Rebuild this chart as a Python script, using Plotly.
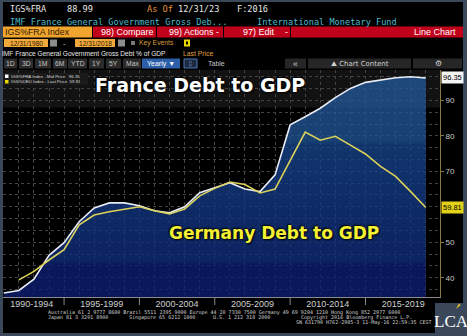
import plotly.graph_objects as go

W, H = 467, 336

# ---------------- data ----------------
years = list(range(1990, 2019))
france_debt = [35.7, 36.4, 39.6, 46.3, 49.9, 55.8, 59.7, 61.1, 61.1, 60.3,
               58.9, 58.3, 60.0, 64.0, 65.4, 66.8, 65.0, 64.3, 69.0, 83.1,
               85.4, 87.8, 90.8, 93.4, 95.1, 95.8, 96.4, 96.7, 96.35]
germany_years = list(range(1991, 2019))
germany_debt = [39.4, 41.8, 45.0, 47.9, 54.9, 57.7, 58.6, 59.3, 60.0,
                58.9, 58.0, 59.4, 63.1, 65.2, 67.0, 66.3, 63.9, 65.0, 73.0,
                81.1, 78.8, 79.9, 77.4, 74.9, 71.4, 68.6, 64.3, 59.81]
period_starts = [1990, 1995, 2000, 2005, 2010, 2015]
period_labels = ["1990-1994", "1995-1999", "2000-2004", "2005-2009", "2010-2014", "2015-2019"]
y_tick_values = [40, 50, 70, 80, 90]
france_ticker = "IGS%FRA Index"
germany_ticker = "IGS%DEU Index"
france_title = "France Debt to GDP"
germany_title = "Germany Debt to GDP"

MONO = "DejaVu Sans Mono"
SANS = "Liberation Sans"

def px(x):
    return x / W

def py(y):
    return 1 - y / H

shapes = []
annotations = []

def rect(x0, y0, x1, y1, fill, layer="below", line=None):
    shapes.append(dict(type="rect", xref="paper", yref="paper",
                       x0=px(x0), x1=px(x1), y0=py(y1), y1=py(y0),
                       fillcolor=fill, layer=layer,
                       line=dict(width=0) if line is None else dict(color=line, width=1)))

def text(x, y, s, size, color, anchor="left", family=MONO, **kw):
    annotations.append(dict(xref="paper", yref="paper", x=px(x), y=py(y), text=s,
                            showarrow=False, xanchor=anchor, yanchor="middle",
                            font=dict(size=size, color=color, family=family),
                            borderpad=0, **kw))

# ---------------- frame ----------------
rect(3, 2, 463, 333, "#000000")
rect(435, 303, 467, 336, "#3b4859")

# row 1
text(9, 8.5, "IGS%FRA", 8.6, "#e6e6e6")
text(66, 8.5, "88.99", 8.6, "#e6e6e6")
text(146, 8.5, "As Of", 8.6, "#e8963a")
text(177, 8.5, "12/31/23", 8.6, "#e6e6e6")
text(236, 8.5, "F:2016", 8.6, "#e6e6e6")
# row 2
text(9, 21.5, "IMF France General Government Gross Deb...", 8.6, "#4cb8c8")
text(256, 21.5, "International Monetary Fund", 8.6, "#4cb8c8")
# row 3
rect(3, 26.5, 92, 37.5, "#f2a52e")
rect(93, 26.5, 156, 37.5, "#c1001b")
rect(157, 26.5, 223, 37.5, "#c1001b")
rect(224, 26.5, 290, 37.5, "#c1001b")
rect(291, 26.5, 463, 37.5, "#c1001b")
text(4, 32, "IGS%FRA Index", 8.8, "#2a1800", family=SANS)
text(100, 32, "98) Compare", 9, "#ffffff", family=SANS)
text(168, 32, "99) Actions -", 9, "#ffffff", family=SANS)
text(242, 32, "97) Edit", 9, "#ffffff", family=SANS)
text(284, 32, "-", 9, "#ffffff", family=SANS)
text(457, 32, "Line Chart", 9, "#ffffff", anchor="right", family=SANS)
# row 4
rect(4, 39, 48, 47, "#f2a93b")
rect(50, 39.5, 57, 46.5, "#8c8c8c")
rect(75, 39, 115, 47, "#f2a93b")
rect(118, 39.5, 125, 46.5, "#8c8c8c")
rect(131, 41, 135, 45, "#7a7a7a")
rect(184, 39.5, 190, 46.5, "#e8d800")
rect(186, 41.5, 188, 44.5, "#000000", layer="above")
text(26, 43, "12/31/1980", 6.6, "#2a1800", anchor="center", family=SANS)
text(95, 43, "12/31/2018", 6.6, "#2a1800", anchor="center", family=SANS)
text(62, 43, "-", 7, "#dddddd", family=SANS)
text(138, 43, "Key Events", 6.8, "#d89b3a", family=SANS)
# row 5
text(1, 53, "IMF France General Government Gross Debt % of GDP", 6.6, "#e8e8e8", family=SANS)
text(182, 53, "Last Price", 6.8, "#e0a040", family=SANS)
# row 6
buttons = [("1D", 4, 17), ("3D", 19, 33), ("1M", 35, 51), ("6M", 53, 67), ("YTD", 68, 87),
           ("1Y", 89, 104), ("5Y", 106, 121), ("Max", 123, 141)]
for lab, a, b in buttons:
    rect(a, 58.5, b, 68.5, "#2b2b2b")
    text((a + b) / 2, 63.5, lab, 6.8, "#c4c4c4", anchor="center", family=SANS)
rect(142, 58.5, 180, 68.5, "#2d5ea8")
text(161, 63.5, "Yearly ▼", 7, "#ffffff", anchor="center", family=SANS)
rect(184, 59, 197, 68, "#1e2a40", line="#4a78b8")
text(190.5, 63.5, "⩇", 6, "#8ab0e0", anchor="center", family="DejaVu Sans")
text(216, 63.5, "Table", 7, "#c4c4c4", anchor="center", family=SANS)
rect(285, 58.5, 306, 68.5, "#262626")
rect(308, 58.5, 411, 68.5, "#262626")
rect(413, 58.5, 462, 68.5, "#262626")
text(295, 63.5, "«", 8.5, "#d0d0d0", anchor="center", family=SANS)
text(360, 63.5, "⛰ Chart Content", 7, "#d0d0d0", anchor="center", family="DejaVu Sans")
text(438, 63.5, "⚙", 8, "#d0d0d0", anchor="center", family="DejaVu Sans")

# legend box inside plot
rect(3, 73, 88, 85, "#1a1a1a", layer="above")
rect(5, 74.5, 8.5, 78, "#ffffff", layer="above")
rect(5, 80, 8.5, 83.5, "#e8d800", layer="above")
text(10, 76.3, f"{france_ticker} - Mid Price   {france_debt[-1]:.2f}", 4.4, "#d8d8d8", family=SANS)
text(10, 81.8, f"{germany_ticker} - Last Price  {germany_debt[-1]:.2f}", 4.4, "#d8d8d8", family=SANS)

# big titles
annotations.append(dict(xref="paper", yref="paper", x=px(200), y=py(84.5), text=france_title,
                        showarrow=False, xanchor="center", yanchor="middle",
                        font=dict(size=19, color="#ffffff", family="DejaVu Sans", weight="bold",
                                  shadow="1px 1px 2px #000, -1px -1px 2px #000")))
annotations.append(dict(xref="paper", yref="paper", x=px(274), y=py(232.5), text=germany_title,
                        showarrow=False, xanchor="center", yanchor="middle",
                        font=dict(size=17, color="#f4f034", family="DejaVu Sans", weight="bold",
                                  shadow="1px 1px 2px #000, -1px -1px 2px #000")))

# last-value boxes on the right axis
annotations.append(dict(xref="paper", yref="y", x=px(441), y=france_debt[-1],
                        text=f"{france_debt[-1]:.2f}", showarrow=False, xanchor="left",
                        yanchor="middle", bgcolor="#f4f4f4", borderpad=1,
                        font=dict(size=7.5, color="#000000", family=SANS)))
annotations.append(dict(xref="paper", yref="y", x=px(441), y=germany_debt[-1],
                        text=f"{germany_debt[-1]:.2f}", showarrow=False, xanchor="left",
                        yanchor="middle", bgcolor="#e3d21a", borderpad=1,
                        font=dict(size=7.5, color="#000000", family=SANS)))

# x-axis period separators
for s in period_starts[1:]:
    shapes.append(dict(type="line", xref="x", yref="paper", x0=s - 1, x1=s - 1,
                       y0=py(305), y1=py(297), line=dict(color="#8a8a8a", width=1), layer="above"))

# subtle top band of the plot background
shapes.append(dict(type="rect", xref="x domain", yref="y", x0=0, x1=1, y0=88, y1=99,
                   fillcolor="#121212", line=dict(width=0), layer="below"))

# footer
text(47, 312, "Australia 61 2 9777 8600 Brazil 5511 2395 9000 Europe 44 20 7330 7500 Germany 49 69 9204 1210 Hong Kong 852 2977 6000", 5.0, "#d0d0d0")
text(47, 317, "Japan 81 3 3201 8900", 5.0, "#d0d0d0")
text(128, 317, "Singapore 65 6212 1000", 5.0, "#d0d0d0")
text(212, 317, "U.S. 1 212 318 2000", 5.0, "#d0d0d0")
text(300, 317, "Copyright 2016 Bloomberg Finance L.P.", 5.0, "#d0d0d0")
text(432, 322, "SN 631790 H762-2985-3 11-May-16 22:59:35 CEST", 5.0, "#d0d0d0", anchor="right")
# logo
text(451, 321, "LCA", 17, "#ffffff", anchor="center", family="Liberation Serif")
shapes.append(dict(type="path", xref="paper", yref="paper",
                   path=f"M {px(456)},{py(309)} L {px(459)},{py(303.5)} L {px(460.5)},{py(305)} Z",
                   fillcolor="#f0d020", line=dict(width=0), layer="above"))

# ---------------- traces ----------------
a = 0.78
fig = go.Figure()
fig.add_trace(go.Scatter(
    x=years, y=france_debt, mode="lines", name=france_ticker,
    line=dict(color="#e8ecf6", width=1.6),
    fill="tozeroy",
    fillgradient=dict(type="vertical", start=34.5, stop=97,
                      colorscale=[[0.0, f"rgba(13,31,116,{a})"],
                                  [0.15, f"rgba(13,31,116,{a})"],
                                  [0.16, f"rgba(15,45,124,{a})"],
                                  [0.41, f"rgba(18,55,130,{a})"],
                                  [0.69, f"rgba(22,68,138,{a})"],
                                  [0.705, f"rgba(32,82,146,{a})"],
                                  [1.0, f"rgba(35,88,152,{a})"]]),
))
fig.add_trace(go.Scatter(
    x=germany_years, y=germany_debt, mode="lines", name=germany_ticker,
    line=dict(color="#dcd25a", width=1.6),
))

tickpos = [s + 1.5 for s in period_starts]
tickpos[0] = max(tickpos[0], 1991.85)

fig.update_layout(
    width=W, height=H,
    margin=dict(l=0, r=0, t=0, b=0),
    paper_bgcolor="#3b4859",
    plot_bgcolor="#000000",
    showlegend=False,
    shapes=shapes,
    annotations=annotations,
    xaxis=dict(
        domain=[px(3), px(440)],
        range=[1989.947, 2018.945],
        tickmode="array", tickvals=tickpos, ticktext=period_labels,
        ticks="", showgrid=False, zeroline=False,
        showline=True, linecolor="#8a8a8a", linewidth=1,
        ticklabelstandoff=-2,
        tickfont=dict(size=9, color="#d0d0d0", family=SANS),
        minor=dict(tickmode="linear", tick0=1990, dtick=1, showgrid=True,
                   gridcolor="#444444", griddash="dot", gridwidth=1, ticks=""),
        fixedrange=True,
    ),
    yaxis=dict(
        domain=[py(297), py(70)],
        range=[34.56, 98.59],
        side="right",
        tickmode="array", tickvals=y_tick_values,
        ticks="outside", ticklen=3, tickcolor="#8a7a40",
        showgrid=False, zeroline=False,
        showline=True, linecolor="#8a7a40", linewidth=1,
        tickfont=dict(size=8, color="#c8c8c8", family=SANS),
        minor=dict(tickmode="linear", tick0=40, dtick=10 / 3, showgrid=True,
                   gridcolor="#444444", griddash="dot", gridwidth=1, ticks=""),
        fixedrange=True,
    ),
)

fig.write_html("out.html")
